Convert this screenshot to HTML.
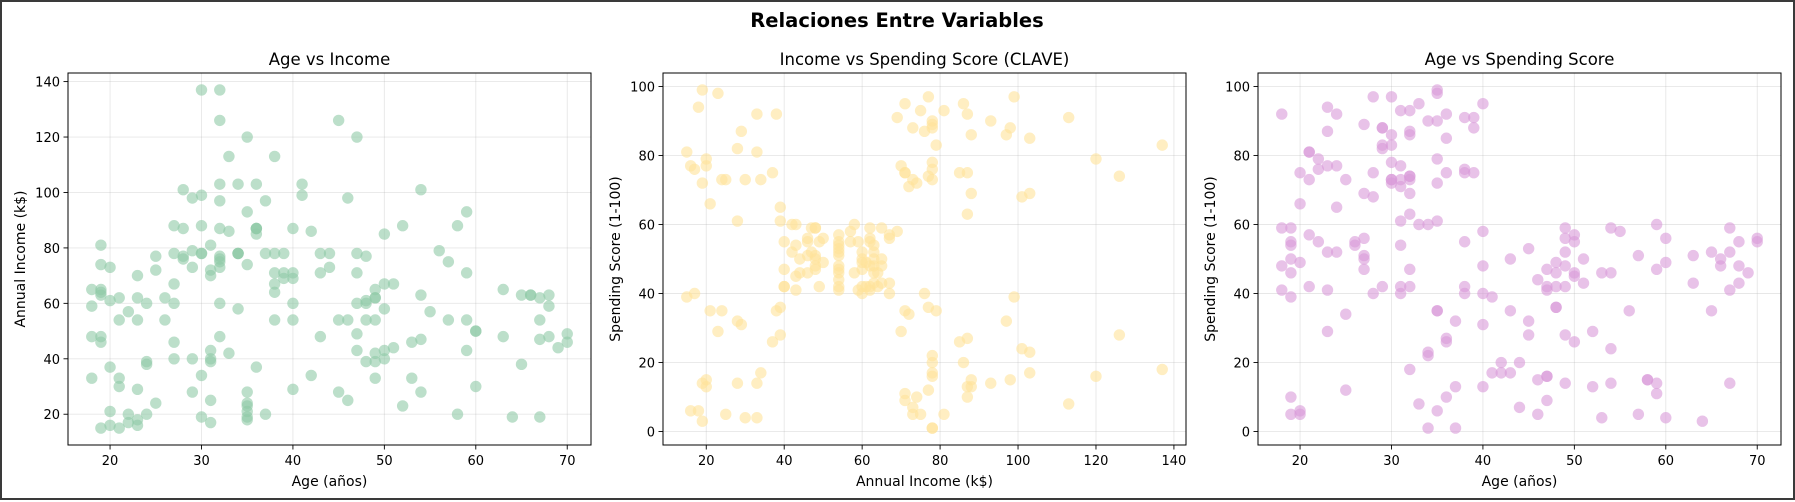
<!DOCTYPE html>
<html><head><meta charset="utf-8">
<style>
html,body{margin:0;padding:0;background:#fff;}
#fig{position:relative;width:1795px;height:500px;box-sizing:border-box;border:2px solid #3a3a3a;background:#fff;font-family:"DejaVu Sans","Liberation Sans",sans-serif;}
svg text{font-family:"DejaVu Sans","Liberation Sans",sans-serif;fill:#000;}
</style></head>
<body>
<div id="fig">
<svg id="svg" width="1791" height="496" viewBox="2 2 1791 496" xmlns="http://www.w3.org/2000/svg">
<text x="897" y="27" text-anchor="middle" font-size="19.5" font-weight="bold">Relaciones Entre Variables</text>
</svg>
</div>
<script>
const ages=[19,21,20,23,31,22,35,23,64,30,67,35,58,24,37,22,35,20,52,35,35,25,46,31,54,29,45,35,40,23,60,21,53,18,49,21,42,30,36,20,65,24,48,31,49,24,50,27,29,31,49,33,31,59,50,47,51,69,27,53,70,19,67,54,63,18,43,68,19,32,70,47,60,60,59,26,45,40,23,49,57,38,67,46,21,48,55,22,34,50,68,18,48,40,32,24,47,27,48,20,23,49,67,26,49,21,66,54,68,66,65,19,38,19,18,19,63,49,51,50,27,38,40,39,23,31,43,40,59,38,47,39,25,31,20,29,44,32,19,35,57,32,28,32,25,28,48,32,34,34,43,39,44,38,47,27,37,30,34,30,56,29,19,31,50,36,42,33,36,32,40,28,36,36,52,30,58,27,59,35,37,32,46,29,41,30,54,28,41,36,34,32,33,38,47,35,45,32,32,30];
const incomes=[15,15,16,16,17,17,18,18,19,19,19,19,20,20,20,20,21,21,23,23,24,24,25,25,28,28,28,28,29,29,30,30,33,33,33,33,34,34,37,37,38,38,39,39,39,39,40,40,40,40,42,42,43,43,43,43,44,44,46,46,46,46,47,47,48,48,48,48,48,48,49,49,50,50,54,54,54,54,54,54,54,54,54,54,54,54,57,57,58,58,59,59,60,60,60,60,60,60,61,61,62,62,62,62,62,62,63,63,63,63,63,63,64,64,65,65,65,65,67,67,67,67,69,69,70,70,71,71,71,71,71,71,72,72,73,73,73,73,74,74,75,75,76,76,77,77,77,77,78,78,78,78,78,78,78,78,78,78,78,78,79,79,81,81,85,85,86,86,87,87,87,87,87,87,88,88,88,88,93,93,97,97,98,98,99,99,101,101,103,103,103,103,113,113,120,120,126,126,137,137];
const scores=[39,81,6,77,40,76,6,94,3,72,14,99,15,77,13,79,35,66,29,98,35,73,5,73,14,82,32,61,31,87,4,73,4,92,14,81,17,73,26,75,35,92,36,61,28,65,55,47,42,42,52,60,54,60,45,41,50,46,51,46,56,55,52,59,51,59,50,48,59,47,55,42,49,56,47,54,53,48,52,42,51,55,41,44,57,46,58,55,60,46,55,41,49,40,42,52,47,50,42,49,41,48,59,55,56,42,50,46,43,48,52,54,42,46,48,50,43,59,43,57,56,40,58,91,29,77,35,95,11,75,9,75,34,71,5,88,7,73,10,72,5,93,40,87,12,97,36,74,22,90,17,88,20,76,16,89,1,78,1,73,35,83,5,93,26,75,20,95,27,63,13,75,10,92,13,86,15,69,14,90,32,86,15,88,39,97,24,68,17,85,23,69,8,91,16,79,28,74,18,83];
const ageTicks=[20,30,40,50,60,70];
const incomeTicks=[20,40,60,80,100,120,140];
const incomeXTicks=[20,40,60,80,100,120,140];
const scoreTicks=[0,20,40,60,80,100];

const NS='http://www.w3.org/2000/svg';
const svg=document.getElementById('svg');
function el(tag,attrs,parent){const e=document.createElementNS(NS,tag);for(const k in attrs)e.setAttribute(k,attrs[k]);(parent||svg).appendChild(e);return e;}
function ext(a){const mn=Math.min(...a),mx=Math.max(...a),m=(mx-mn)*0.05;return [mn-m,mx+m];}

function panel(cfg){
  const L=cfg.left,R=cfg.left+523,T=73,B=445;
  const [x0,x1]=ext(cfg.xs),[y0,y1]=ext(cfg.ys);
  const sx=v=>L+(v-x0)/(x1-x0)*(R-L);
  const sy=v=>B-(v-y0)/(y1-y0)*(B-T);
  const g=el('g',{});
  
  
  cfg.xt.forEach(t=>{const x=sx(t);
    const ln=el('line',{x1:x,x2:x,y1:T,y2:B,stroke:'#b0b0b0','stroke-opacity':0.3,'stroke-width':0.9},g);
    
    el('line',{x1:x,x2:x,y1:B,y2:B+4.5,stroke:'#000','stroke-width':0.9},g);
    const tx=el('text',{x:x,y:B+20,'text-anchor':'middle','font-size':13},g);tx.textContent=t;
    });
  cfg.yt.forEach(t=>{const y=sy(t);
    const ln=el('line',{x1:L,x2:R,y1:y,y2:y,stroke:'#b0b0b0','stroke-opacity':0.3,'stroke-width':0.9},g);
    
    el('line',{x1:L-4.5,x2:L,y1:y,y2:y,stroke:'#000','stroke-width':0.9},g);
    const tx=el('text',{x:L-8,y:y+5,'text-anchor':'end','font-size':13},g);tx.textContent=t;
    });
  cfg.xs.forEach((v,i)=>{const c=el('circle',{cx:sx(v),cy:sy(cfg.ys[i]),r:5.7,fill:cfg.color,'fill-opacity':0.6},g);
    });
  const fr=el('rect',{x:L,y:T,width:R-L,height:B-T,fill:'none',stroke:'#000','stroke-width':1},g);
  
  const ti=el('text',{x:(L+R)/2,y:T-8,'text-anchor':'middle','font-size':16.5},g);ti.textContent=cfg.title;
  
  const xl=el('text',{x:(L+R)/2,y:B+41,'text-anchor':'middle','font-size':14},g);xl.textContent=cfg.xlab;
  
  const yx=L-43,yy=(T+B)/2;
  const yl=el('text',{x:yx,y:yy,'text-anchor':'middle','font-size':14,transform:`rotate(-90 ${yx} ${yy})`},g);yl.textContent=cfg.ylab;
  
}
panel({name:'age-vs-income-panel',left:68,xs:ages,ys:incomes,xt:ageTicks,yt:incomeTicks,color:'#8fcaa6',title:'Age vs Income',xlab:'Age (años)',ylab:'Annual Income (k$)'});
panel({name:'income-vs-spending-panel',left:663,xs:incomes,ys:scores,xt:incomeXTicks,yt:scoreTicks,color:'#ffe39a',title:'Income vs Spending Score (CLAVE)',xlab:'Annual Income (k$)',ylab:'Spending Score (1-100)'});
panel({name:'age-vs-spending-panel',left:1258,xs:ages,ys:scores,xt:ageTicks,yt:scoreTicks,color:'#d99ad9',title:'Age vs Spending Score',xlab:'Age (años)',ylab:'Spending Score (1-100)'});
</script>
</body></html>
